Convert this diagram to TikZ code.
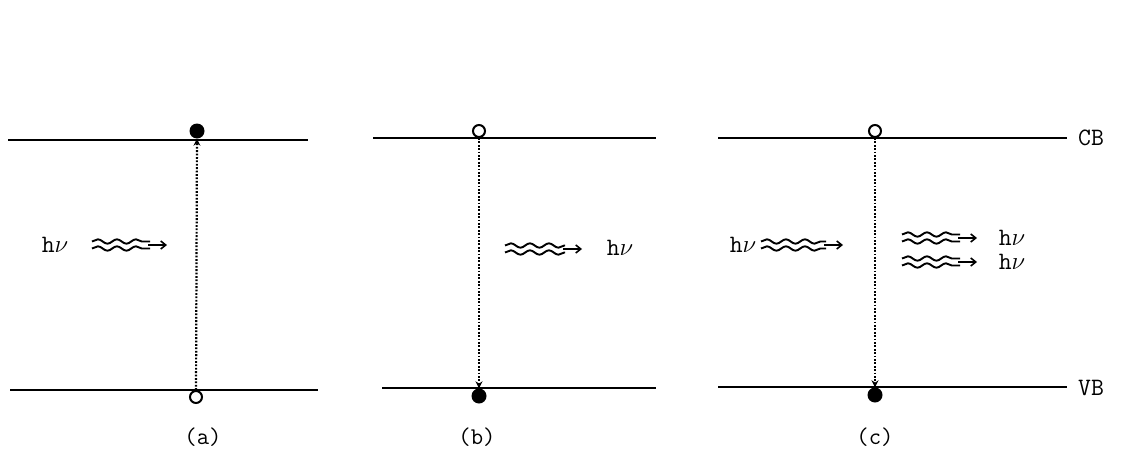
\documentclass[tikz,border=0pt]{standalone}
\usepackage{fontspec}
\usepackage{tikz}
\usetikzlibrary{positioning,arrows.meta,decorations.pathmorphing}

\begin{document}
\begin{tikzpicture}[x=1pt, y=-1pt]
\tikzset{
  band/.style={line width=2.2pt},
  elec/.style={circle, fill=black, inner sep=0pt, minimum size=15pt},
  hole/.style={circle, draw=black, line width=2pt, fill=white, inner sep=0pt, minimum size=12pt},
  trans/.style={line width=2.2pt, dash pattern=on 1.8pt off 1.6pt, -{Stealth[length=7pt,width=7pt]}},
  wave/.style={line width=1.9pt, decorate, decoration={snake, amplitude=2.2pt, segment length=19pt}},
  tip/.style={line width=1.6pt, -{Straight Barb[length=5pt,width=8pt]}},
  lbl/.style={font=\ttfamily\fontsize{25}{25}\selectfont, inner sep=0pt},
  caption/.style={font=\ttfamily\fontsize{24}{24}\selectfont, inner sep=0pt}
}
\useasboundingbox (0,0) rectangle (1125,474);

% bands
\draw[band] (8,140) -- (308,140);
\draw[band] (10,390) -- (318,390);
\draw[band] (373,138) -- (656,138);
\draw[band] (382,388) -- (656,388);
\draw[band] (718,138) -- (1067,138);
\draw[band] (718,387) -- (1067,387);
\node[lbl, anchor=west] (cb) at (1078,138) {CB};
\node[lbl, anchor=west] (vb) at (1078,388) {VB};

% carriers
\node[elec] (ea) at (197,131) {};
\node[hole] (ha) at (196,397) {};
\node[hole] (hb) at (479,131) {};
\node[elec] (eb) at (479,396) {};
\node[hole] (hc) at (875,131) {};
\node[elec] (ec) at (875,395) {};

% transitions
\draw[trans] (ha) -- (ea);
\draw[trans] (hb) -- (eb);
\draw[trans] (hc) -- (ec);

% photons
\node[lbl] (hva) at (55,245) {h$\nu$};
\node[lbl] (hvb) at (620,248) {h$\nu$};
\node[lbl] (hvc) at (743,245) {h$\nu$};
\node[lbl] (hvd) at (1012,238) {h$\nu$};
\node[lbl] (hve) at (1012,262) {h$\nu$};
\foreach \sx/\sy/\ex in {92/245/167, 505/249/582, 761/245/843, 902/238/977, 902/262/977}{
  \draw[wave] (\sx,\sy-3.5) -- (\ex-17,\sy-3.5);
  \draw[wave] (\sx,\sy+3.5) -- (\ex-17,\sy+3.5);
  \draw[tip] (\ex-19,\sy) -- (\ex,\sy);
}

% captions
\node[caption] (capa) at (203,437) {(a)};
\node[caption] (capb) at (477,437) {(b)};
\node[caption] (capc) at (875,437) {(c)};
\end{tikzpicture}
\end{document}
